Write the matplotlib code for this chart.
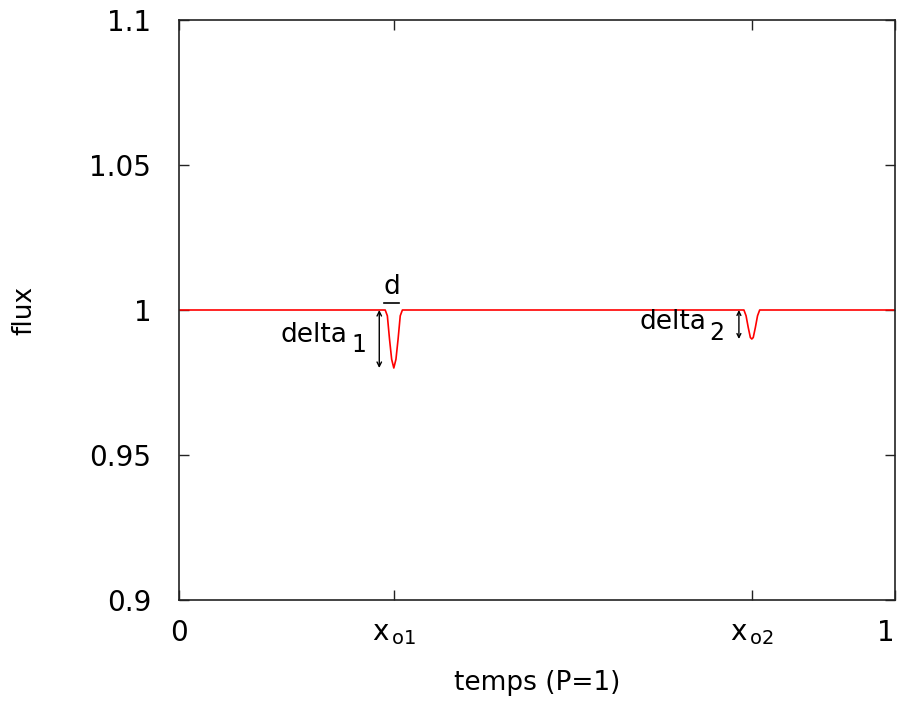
import matplotlib
matplotlib.use("Agg")
import matplotlib.pyplot as plt

# Light curve samples (time, flux)
time = [0.0, 0.288, 0.291, 0.294, 0.297, 0.300, 0.303, 0.306, 0.309, 0.312,
        0.789, 0.792, 0.795, 0.798, 0.800, 0.802, 0.805, 0.808, 0.811, 1.0]
flux = [1.0, 1.0, 0.998, 0.990, 0.983, 0.980, 0.983, 0.990, 0.998, 1.0,
        1.0, 0.998, 0.994, 0.9905, 0.990, 0.9905, 0.994, 0.998, 1.0, 1.0]

x_ticks = [0, 0.3, 0.8, 1]
x_tick_labels = ['0', r'$\mathregular{x_{\,o1}}$', r'$\mathregular{x_{\,o2}}$', '1']
y_ticks = [0.9, 0.95, 1.0, 1.05, 1.1]
y_tick_labels = ['0.9', '0.95', '1', '1.05', '1.1']

FS = 19
TFS = 20
plt.rcParams['font.family'] = ['DejaVu Sans']

fig = plt.figure(figsize=(9, 7.02), dpi=100)
ax = fig.add_axes([179/900, 1-600/702, 716/900, 580/702])

ax.plot(time, flux, color='red', lw=1.2)

ax.set_xlim(0, 1)
ax.set_ylim(0.9, 1.1)
ax.set_xticks(x_ticks)
ax.set_xticklabels(x_tick_labels, fontsize=TFS)
ax.set_yticks(y_ticks)
ax.set_yticklabels(y_tick_labels, fontsize=TFS)
ax.tick_params(direction='in', length=7, width=1, top=True, right=True,
               color='#222222')
ax.tick_params(axis='x', pad=14)
ax.tick_params(axis='y', pad=20)
for s in ax.spines.values():
    s.set_linewidth(1.2)
    s.set_color('#222222')
# keep the right-most tick label inside the canvas
ax.get_xticklabels()[-1].set_horizontalalignment('right')

ax.set_xlabel('temps (P=1)', fontsize=FS)
ax.set_ylabel('flux', fontsize=FS)
ax.xaxis.set_label_coords(0.5, -0.12)
ax.yaxis.set_label_coords(-0.198, 0.5)

# delta 1 arrow
ax.annotate('', xy=(0.2797, 0.980), xytext=(0.2797, 1.0),
            arrowprops=dict(arrowstyle='<->', color='black', lw=1,
                            shrinkA=0, shrinkB=0, mutation_scale=8))
ax.text(0.235, 0.9914, 'delta', fontsize=FS, ha='right', va='center')
ax.text(0.2615, 0.9879, '1', fontsize=FS - 2, ha='right', va='center')

# d marker
ax.plot([0.2867, 0.3077], [1.0024, 1.0024], color='black', lw=1.2)
ax.text(0.297, 1.0036, 'd', fontsize=FS, ha='center', va='bottom')

# delta 2 arrow
ax.annotate('', xy=(0.782, 0.990), xytext=(0.782, 1.0),
            arrowprops=dict(arrowstyle='<->', color='black', lw=1,
                            shrinkA=0, shrinkB=0, mutation_scale=7))
ax.text(0.737, 0.9959, 'delta', fontsize=FS, ha='right', va='center')
ax.text(0.762, 0.9921, '2', fontsize=FS - 2, ha='right', va='center')

fig.savefig('out.png', dpi=100)
